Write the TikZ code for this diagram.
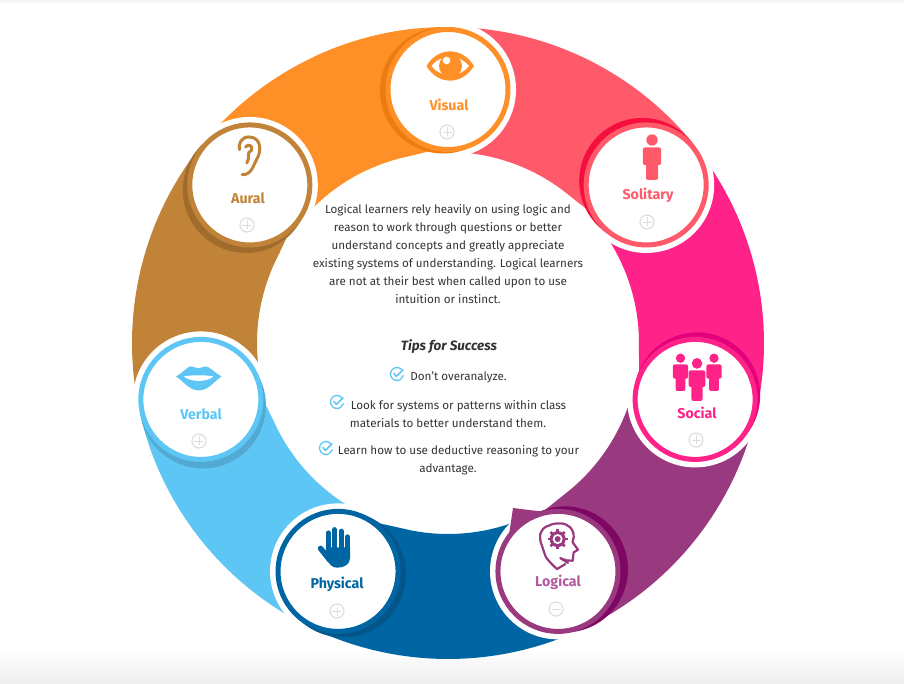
\documentclass[tikz,border=0pt]{standalone}
\usepackage{fontspec}
\setmainfont{Fira Sans}
\definecolor{visualtone}{HTML}{FF9027}
\definecolor{visualdark}{HTML}{EC7C10}
\definecolor{solitarytone}{HTML}{FF5A6A}
\definecolor{solitarydark}{HTML}{F50F3E}
\definecolor{socialtone}{HTML}{FF2389}
\definecolor{socialdark}{HTML}{E4007A}
\definecolor{logicaltone}{HTML}{99397F}
\definecolor{logicaldark}{HTML}{7D0763}
\definecolor{logicaltext}{HTML}{B3599F}
\definecolor{physicaltone}{HTML}{0066A3}
\definecolor{physicaldark}{HTML}{03558A}
\definecolor{verbaltone}{HTML}{5DC6F5}
\definecolor{verbaldark}{HTML}{52A9D2}
\definecolor{auraltone}{HTML}{C18337}
\definecolor{auraldark}{HTML}{A06C2E}
\definecolor{bodytext}{HTML}{333333}
\definecolor{togglegray}{HTML}{DCDCDC}
\newcommand{\ringband}[3]{%
  \fill[#3] (#1:316) arc[start angle=#1,end angle=#2,radius=316] -- (#2:191)
    arc[start angle=#2,end angle=#1+14,radius=191]
    .. controls (#1+9:191.3) and (#1+5:193) .. (#1-1:197) -- cycle;}
\tikzset{
  disc/.style={circle,fill=white,line width=5pt,minimum size=120pt,inner sep=0pt},
  stylename/.style={font=\fontsize{14.2}{15}\selectfont\bfseries},
  togglebtn/.style={circle,draw=togglegray,line width=1.1pt,minimum size=14pt,inner sep=0pt,
    path picture={\draw[togglegray,line width=.9pt] (path picture bounding box.center) ++(-4.5,0) -- ++(9,0);}},
  plusbtn/.style={togglebtn,
    append after command={(\tikzlastnode.center) ++(0,-4.5) edge[togglegray,line width=.9pt] ++(0,9)}},
  tiptext/.style={font=\fontsize{11.65}{18}\selectfont,text=bodytext,align=center,inner sep=0pt},
  learner/.pic={
    \fill (0,40) circle[radius=5.7];
    \fill[rounded corners=2pt] (-9.2,32.5) rectangle (9.2,15);
    \fill[rounded corners=2pt] (-6,20) rectangle (6,0);
  },
  tipcheck/.pic={
    \draw[verbaltone,line width=1.3pt,line cap=round] (35:6.5) arc[start angle=35,end angle=345,radius=6.5];
    \draw[verbaltone,line width=1.5pt,line cap=round,line join=round] (-3.2,.6) -- (-.6,-2.4) -- (6,4.2);
  }
}
\begin{document}
\begin{tikzpicture}[x=1pt,y=1pt]
  \useasboundingbox (-448,-341) rectangle (456,343);
  \shade[top color=white,bottom color=black!7] (-448,-306) rectangle (456,-341);
  \shade[top color=black!5,bottom color=white] (-448,343) rectangle (456,339);

  % the bands, each one under the halo of the next circle
  \foreach \ang/\tone in {90/visualtone,141.43/auraltone,192.86/verbaltone,244.29/physicaltone,
    295.71/logicaltone,347.14/socialtone,398.57/solitarytone}{
    \ringband{\ang}{\ang+51.43}{\tone}
    \fill[white] (\ang+51.43:253.5) circle[radius=68];
  }
  \ringband{90}{115}{visualtone}
  \fill[logicaltone] (65,-165) -- (97,-169) -- (61,-192) -- cycle;

  % circles
  \foreach \nm/\ang/\tone/\dark/\ox/\oy in {visual/90/visualtone/visualdark/-5/-1,
    solitary/38.57/solitarytone/solitarydark/-4/4,
    social/-12.86/socialtone/socialdark/2/4,
    logical/-64.29/logicaltone/logicaldark/7/2,
    physical/-115.71/physicaltone/physicaldark/5/-3,
    verbal/-167.14/verbaltone/verbaldark/2/-6,
    aural/141.43/auraltone/auraldark/-4/-5}{
    \fill[\dark] (\ang:253.5) ++(\ox,\oy) circle[radius=63];
    \node[disc,draw=\tone] (\nm) at (\ang:253.5) {};
  }

  % names
  \node[stylename,text=visualtone] (visualname) at (1,238) {Visual};
  \node[stylename,text=solitarytone] (solitaryname) at (200,148) {Solitary};
  \node[stylename,text=socialtone] (socialname) at (249,-70) {Social};
  \node[stylename,text=logicaltext] (logicalname) at (110,-239) {Logical};
  \node[stylename,text=physicaltone] (physicalname) at (-111,-241) {Physical};
  \node[stylename,text=verbaltone] (verbalname) at (-247,-71) {Verbal};
  \node[stylename,text=auraltone] (auralname) at (-200,145) {Aural};

  \node[plusbtn] (visualtoggle) at (-1,211) {};
  \node[plusbtn] (solitarytoggle) at (199,121) {};
  \node[plusbtn] (socialtoggle) at (248,-97) {};
  \node[togglebtn] (logicaltoggle) at (108,-266) {};
  \node[plusbtn] (physicaltoggle) at (-111,-268) {};
  \node[plusbtn] (verbaltoggle) at (-249,-98) {};
  \node[plusbtn] (auraltoggle) at (-201,118) {};

  % eye
  \begin{scope}[shift={(visual.center)}]
    \fill[visualtone] (-21.5,23.5) .. controls (-10,43) and (14,43) .. (26,23.5)
      .. controls (14,4) and (-10,4) .. (-21.5,23.5) -- cycle;
    \fill[white] (-16.5,23.5) .. controls (-8,35.5) and (12,35.5) .. (21,23.5)
      .. controls (12,11.5) and (-8,11.5) .. (-16.5,23.5) -- cycle;
    \fill[visualtone] (2.5,23.5) circle[radius=11.5];
    \fill[white] (-1.5,29) circle[radius=3.8];
  \end{scope}

  % person
  \pic[color=solitarytone] at (204,163) {learner};

  % group
  \pic[color=socialtone,scale=.82] at (232.5,-48) {learner};
  \pic[color=socialtone,scale=.82] at (266,-48) {learner};
  \fill[white] (241,-55.5) rectangle (257.5,-26);
  \pic[color=socialtone,xscale=.92,yscale=.94] at (249,-58) {learner};

  % head with a gear
  \begin{scope}[shift={(logical.center)},logicaltone]
    \draw[line width=2.2pt,line join=round,line cap=round] (-1,2.3) .. controls (-6,7) and (-12,13) .. (-12.7,15.7)
      .. controls (-14,20) and (-15,22) .. (-16,25.7) .. controls (-18,30) and (-18,34) .. (-17.7,37.3)
      .. controls (-16,42) and (-13,45) .. (-9.3,45.7) .. controls (-5,48) and (-1,48) .. (2.3,48)
      .. controls (7,48) and (10,46) .. (12.3,44) .. controls (15,41) and (16,37) .. (15.7,34)
      -- (14.7,29) -- (20,21.7) -- (15.7,19) -- (14.7,10.7) .. controls (11,10) and (8,11) .. (2.3,13.3)
      -- (10,8.5);
    \draw[line width=2.2pt,line cap=round] (-1,2.3) -- (7.3,7.3);
    \foreach \tooth in {0,45,...,315}{
      \draw[line width=2.6pt] (-.3,32.3) -- ++(\tooth:10);
    }
    \fill (-.3,32.3) circle[radius=8];
    \fill[white] (-.3,32.3) circle[radius=5];
    \fill (-.3,32.3) circle[radius=3];
  \end{scope}

  % hand
  \begin{scope}[shift={(physical.center)},physicaltone]
    \foreach \fx/\ftop in {-9.7/38.5,-3.4/41.8,3/40.2,9.5/34.5}{
      \draw[line width=5pt,line cap=round] (\fx,21) -- (\fx,\ftop);
    }
    \fill (-12.2,24) -- (12,24) -- (12,13) .. controls (12,7) and (6,3.7) .. (-1,3.7)
      .. controls (-6,3.7) and (-9,7) .. (-12.2,14) -- cycle;
    \draw[line width=5.5pt,line cap=round] (-17.5,23) -- (-8,11);
  \end{scope}

  % lips
  \begin{scope}[shift={(verbal.center)},verbaltone]
    \fill (-25,23) .. controls (-18,26) and (-14,33) .. (-10,33) .. controls (-7,33) and (-4,31) .. (-2.3,31)
      .. controls (-1,31) and (2,33) .. (5,33) .. controls (9,33) and (14,26) .. (20.7,23)
      .. controls (14,19) and (8,9) .. (-2,9) .. controls (-12,9) and (-18,19) .. (-25,23) -- cycle;
    \fill[white] (-17,23) .. controls (-10,24.5) and (5,24.5) .. (12.5,23)
      .. controls (6,17) and (-10,17) .. (-17,23) -- cycle;
  \end{scope}

  % ear
  \begin{scope}[shift={(aural.center)},auraltone,line width=3pt,line cap=round]
    \draw (-7.7,10.3) .. controls (1.7,9.7) and (3.3,19.7) .. (7.3,26.3)
      .. controls (11.7,34) and (11.7,48) .. (-1,48)
      .. controls (-8.3,48) and (-11.7,41.3) .. (-10.3,35.3);
    \draw (-4.3,38) .. controls (-1.7,41.3) and (3.3,39.7) .. (1.7,34.7)
      .. controls (-4.3,32) and (1,27.3) .. (-3,22);
  \end{scope}

  % middle text
  \node[tiptext] (intro) at (0,89) {Logical learners rely heavily on using logic and\\
    reason to work through questions or better\\
    understand concepts and greatly appreciate\\
    existing systems of understanding. Logical learners\\
    are not at their best when called upon to use\\
    intuition or instinct.};
  \node[text=bodytext,inner sep=0pt,font=\fontsize{13.5}{15}\selectfont\bfseries\itshape] (tipshead) at (1,-3.5) {Tips for Success};
  \node[tiptext] (tipone) at (10.5,-34.5) {Don’t overanalyze.};
  \node[tiptext] (tiptwo) at (0,-71.5) {\hspace*{21pt}Look for systems or patterns within class\\materials to better understand them.};
  \node[tiptext] (tipthree) at (0,-117) {\hspace*{21pt}Learn how to use deductive reasoning to your\\advantage.};
  \pic at (-51,-31) {tipcheck};
  \pic at (-111,-59) {tipcheck};
  \pic at (-122,-105) {tipcheck};
\end{tikzpicture}
\end{document}
